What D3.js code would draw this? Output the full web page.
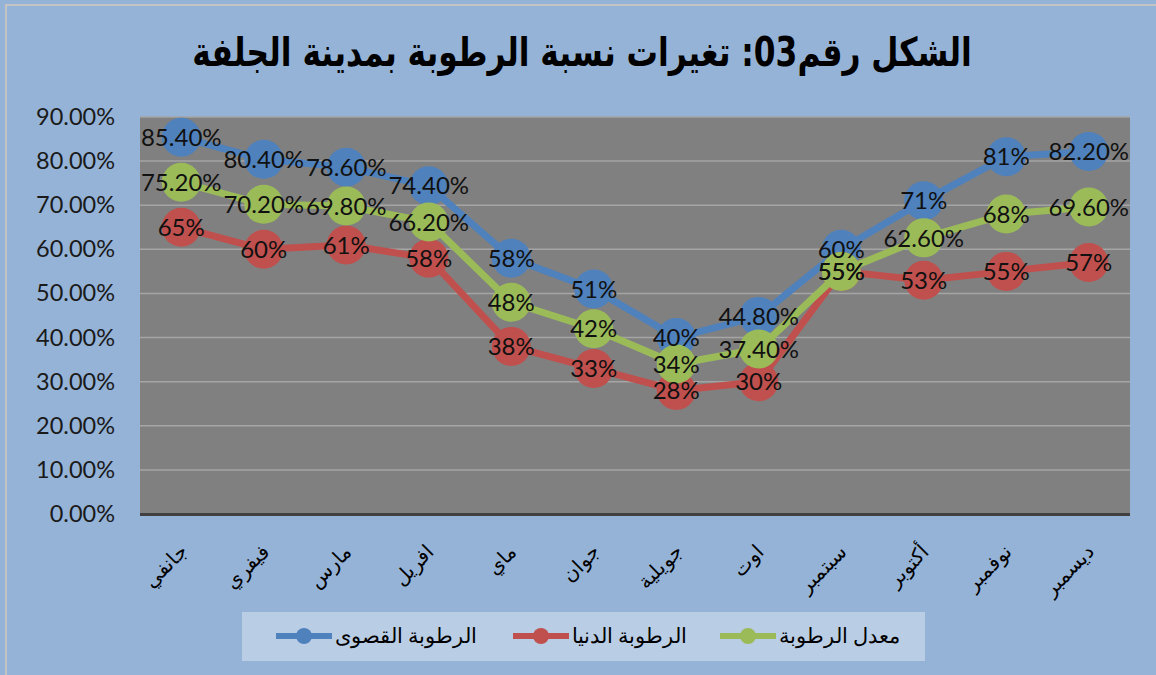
<!DOCTYPE html>
<html><head><meta charset="utf-8">
<script src="https://cdn.jsdelivr.net/npm/d3@7"></script>
<style>html,body{margin:0;padding:0;background:#95B3D7;}svg{display:block;}</style>
</head><body>
<svg id="chart" width="1156" height="675"></svg>
<script>
const months = ["جانفي","فيفري","مارس","افريل","ماي","جوان","جويلية","اوت","سبتمبر","أكتوبر","نوفمبر","ديسمبر"];
const maxHum = [85.4,80.4,78.6,74.4,58,51,40,44.8,60,71,81,82.2];
const minHum = [65,60,61,58,38,33,28,30,55,53,55,57];
const avgHum = [75.2,70.2,69.8,66.2,48,42,34,37.4,55,62.6,68,69.6];
const seriesNames = ["الرطوبة القصوى","الرطوبة الدنيا","معدل الرطوبة"];
const yTicks = [0,10,20,30,40,50,60,70,80,90];
const title = "الشكل رقم03: تغيرات نسبة الرطوبة بمدينة الجلفة";

const colors = ["#4F81BD","#C0504D","#9BBB59"];
const series = [maxHum,minHum,avgHum];

const svg = d3.select("#chart");
const W = 1156, H = 675;
const plot = {left:140, right:1130, top:117, bottom:514};

svg.append("rect").attr("x",6).attr("y",5).attr("width",W+10).attr("height",H+10)
  .attr("fill","#95B3D7").attr("stroke","#c4c4c4").attr("stroke-width",2);

const tg = svg.append("g");
const tt = tg.append("text").attr("x",0).attr("y",0).attr("text-anchor","middle")
  .attr("direction","rtl")
  .style("font-family","'DejaVu Sans', sans-serif").style("font-weight","bold")
  .style("font-size","40px").attr("fill","#000").text(title);
const tw = tt.node().getComputedTextLength();
tg.attr("transform",`translate(582,66) scale(${780/tw},1)`);

const x = d3.scaleBand().domain(months).range([plot.left, plot.right]).padding(0);
const y = d3.scaleLinear().domain([0,90]).range([plot.bottom, plot.top]);

svg.append("rect").attr("x",plot.left).attr("y",plot.top)
  .attr("width",plot.right-plot.left).attr("height",plot.bottom-plot.top).attr("fill","#808080");

svg.append("g").selectAll("line").data(yTicks.filter(d=>d>0)).join("line")
  .attr("x1",plot.left).attr("x2",plot.right)
  .attr("y1",d=>y(d)).attr("y2",d=>y(d))
  .attr("stroke","#a5a5a5").attr("stroke-width",1.5);

const yAxis = d3.axisLeft(y).tickValues(yTicks).tickFormat(d=>d.toFixed(2)+"%").tickSize(0).tickPadding(25);
const gy = svg.append("g").attr("transform",`translate(${plot.left},0)`).call(yAxis);
gy.select(".domain").remove();
gy.selectAll("text").style("font-family","Lato, 'Open Sans', sans-serif").style("font-size","23.5px").attr("fill","#1a1a1a");

svg.append("line").attr("x1",plot.left).attr("x2",plot.right).attr("y1",y(0)+0.5).attr("y2",y(0)+0.5)
  .attr("stroke","#404040").attr("stroke-width",3);

svg.append("g").selectAll("text").data(months).join("text")
  .attr("transform",d=>`translate(${x(d)+x.bandwidth()/2+2},548) rotate(-45)`)
  .attr("text-anchor","end").attr("dy","0.35em")
  .style("font-family","'Times New Roman','Liberation Serif','DejaVu Serif',serif").style("font-size","20px")
  .attr("fill","#000").text(d=>d);

const cx = (d,i)=>x(months[i])+x.bandwidth()/2;
const line = d3.line().x((d,i)=>cx(d,i)).y(d=>y(d));

series.forEach((s,k)=>{
  svg.append("path").datum(s).attr("d",line).attr("fill","none")
    .attr("stroke",colors[k]).attr("stroke-width",7).attr("stroke-linejoin","round");
  svg.append("g").selectAll("circle").data(s).join("circle")
    .attr("cx",cx).attr("cy",d=>y(d)).attr("r",19.5).attr("fill",colors[k]);
});

const fmt = v => Number.isInteger(v) ? v+"%" : v.toFixed(2)+"%";
series.forEach((s,k)=>{
  svg.append("g").selectAll("text").data(s).join("text")
    .attr("x",cx).attr("y",d=>y(d)).attr("dy","0.36em").attr("text-anchor","middle")
    .style("font-family","Lato, 'Open Sans', sans-serif").style("font-size","24px")
    .attr("fill","#111").text(fmt);
});

const lg = svg.append("g");
lg.append("rect").attr("x",242).attr("y",612).attr("width",683).attr("height",49).attr("fill","#B9CDE5");
const legX = [276,513,720];
seriesNames.forEach((n,k)=>{
  const g = lg.append("g").attr("transform",`translate(${legX[k]},636)`);
  g.append("line").attr("x1",0).attr("x2",56).attr("stroke",colors[k]).attr("stroke-width",6);
  g.append("circle").attr("cx",28).attr("r",8).attr("fill",colors[k]);
  g.append("text").attr("x",59).attr("dy","0.35em").attr("text-anchor","start")
    .style("font-family","'Times New Roman','Liberation Serif','DejaVu Serif',serif").style("font-size","21px")
    .attr("fill","#000").text(n);
});
</script>
</body></html>
